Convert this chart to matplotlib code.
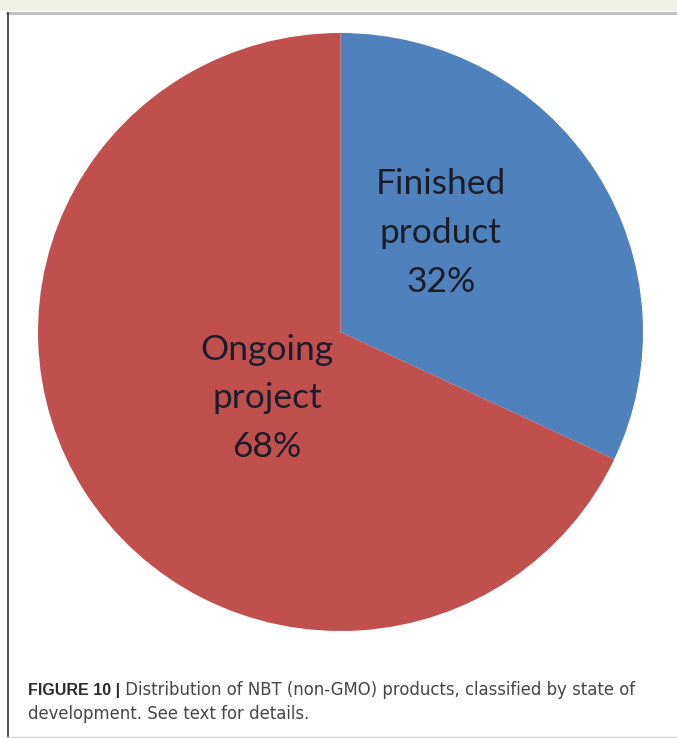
import matplotlib
matplotlib.use("Agg")
import matplotlib.pyplot as plt
from matplotlib.patches import Rectangle
from matplotlib.lines import Line2D

# data
categories = ["Finished\nproduct", "Ongoing\nproject"]
shares = [32, 68]
colors = ["#4f81bd", "#c0504d"]
caption_bold = "FIGURE 10 |"
caption_rest = " Distribution of NBT (non-GMO) products, classified by state of"
caption_line2 = "development. See text for details."

W, H = 677, 738
fig = plt.figure(figsize=(W / 100, H / 100), dpi=100)
fig.patch.set_facecolor("white")

# page background strip and frame
fig.add_artist(Rectangle((0, 1 - 11 / H), 1, 11 / H, transform=fig.transFigure,
                         facecolor="#eef1e3", edgecolor="none"))
fig.add_artist(Line2D([7 / W, 1], [1 - 13 / H, 1 - 13 / H], transform=fig.transFigure,
                      color="#bdbdbd", lw=2.0))
fig.add_artist(Line2D([7.5 / W, 7.5 / W], [0, 1 - 13 / H], transform=fig.transFigure,
                      color="#333333", lw=1.2))
fig.add_artist(Line2D([7 / W, 1], [1.5 / H, 1.5 / H], transform=fig.transFigure,
                      color="#cfcfcf", lw=1.0))

# pie axes: centre (340.5, 332) px, radii 302.5 x 299 px
cx, cy, rx, ry = 340.5, 332, 302.5, 299
ax = fig.add_axes([(cx - rx) / W, (H - cy - ry) / H, 2 * rx / W, 2 * ry / H])
ax.pie(shares, colors=colors, startangle=90, counterclock=False,
       wedgeprops=dict(linewidth=0), radius=1.0)
ax.set_aspect("auto")
ax.set_xlim(-1, 1)
ax.set_ylim(-1, 1)
ax.axis("off")

label_pos = [(0.332, 0.331), (-0.243, -0.222)]
for cat, val, (x, y) in zip(categories, shares, label_pos):
    ax.text(x, y, f"{cat}\n{val}%", ha="center", va="center", fontsize=25.5,
            family="Lato", color="#1b1d2b", linespacing=1.64)

# caption
base1 = 1 - 695 / H
base2 = 1 - 719 / H
t1 = fig.text(28 / W, base1, caption_bold, fontsize=11.5, weight="bold",
              family="Liberation Sans", color="#2b2b2b", va="baseline")
fig.canvas.draw()
bb = t1.get_window_extent()
t2 = fig.text(bb.x1 / W, base1, caption_rest, fontsize=11.5,
              family="DejaVu Sans", color="#454545", va="baseline")
fig.canvas.draw()
# fit regular caption size so the first line ends where the reference does
w2 = t2.get_window_extent().width
fs = 11.5 * (640 - bb.x1) / w2
t2.set_fontsize(fs)
fig.text(28 / W, base2, caption_line2, fontsize=fs,
         family="DejaVu Sans", color="#454545", va="baseline")

fig.savefig("out.png", dpi=100)
